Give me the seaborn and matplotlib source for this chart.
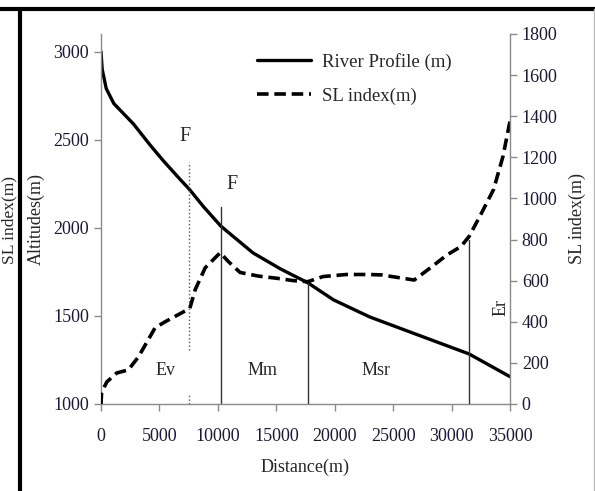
import matplotlib
matplotlib.use("Agg")
import matplotlib.pyplot as plt
from matplotlib.lines import Line2D
import seaborn as sns
import pandas as pd

# river longitudinal profile (left axis)
profile_dist = [0, 100, 450, 1100, 2770, 4200, 5340, 6770, 7570, 8770, 10250,
                11060, 13000, 15350, 17700, 19900, 23000, 27000, 31500, 35000]
profile_alt = [3000, 2900, 2790, 2705, 2590, 2470, 2380, 2275, 2218, 2120, 2010,
               1965, 1858, 1767, 1688, 1591, 1494, 1395, 1284, 1155]

# SL index (right axis)
sl_dist = [0, 50, 490, 1350, 2340, 3200, 4630, 5490, 7600, 8060, 8920, 10200,
           10900, 11900, 13500, 15000, 16500, 17700, 19000, 21000, 23000, 24000,
           26800, 28200, 29600, 30800, 31500, 32500, 33600, 34400, 35000]
sl_value = [0, 55, 107, 151, 166, 229, 371, 400, 465, 556, 663, 736,
            693, 640, 622, 612, 600, 595, 620, 630, 630, 628,
            603, 663, 725, 766, 815, 922, 1044, 1205, 1376]

# annotations
fault_x = [7550, 10300]
zone_x = [17700, 31500]
zone_names = ["Ev", "Mm", "Msr"]
zone_label_x = [5500, 13800, 23500]

profile = pd.DataFrame({"dist": profile_dist, "alt": profile_alt})
sl = pd.DataFrame({"dist": sl_dist, "sl": sl_value})

sns.set_style("ticks")
plt.rcParams["font.family"] = ["Liberation Serif", "DejaVu Serif"]
plt.rcParams["font.size"] = 13

fig = plt.figure(figsize=(5.95, 4.91), dpi=100)
ax = fig.add_axes([101 / 595, 87 / 491, 409 / 595, 370 / 491])
ax2 = ax.twinx()

sns.lineplot(data=profile, x="dist", y="alt", ax=ax, color="black",
             linewidth=2.4, label="River Profile (m)", legend=False)
sns.lineplot(data=sl, x="dist", y="sl", ax=ax2, color="black",
             linewidth=2.6, linestyle=(0, (3.2, 1.6)), label="SL index(m)",
             legend=False)

ax.set_xlim(0, 35000)
ax.set_ylim(1000, 3100)
ax2.set_ylim(0, 1800)
ax.set_xticks(range(0, 35001, 5000))
ax.set_yticks(range(1000, 3001, 500))
ax2.set_yticks(range(0, 1801, 200))

spine_col = "#8a8a8a"
for a in (ax, ax2):
    for s in a.spines.values():
        s.set_color(spine_col)
        s.set_linewidth(1.0)
    a.spines["top"].set_visible(False)
    a.tick_params(colors=spine_col, labelcolor="#1a1a33", length=5,
                  width=1.0, labelsize=13)
ax.spines["right"].set_visible(False)
ax2.spines["left"].set_visible(False)
ax2.spines["bottom"].set_visible(False)
ax2.spines["right"].set_visible(True)
ax.tick_params(axis="x", pad=12)

ax.set_xlabel("Distance(m)", fontsize=13, labelpad=10)
ax.set_ylabel("Altitudes(m)", fontsize=13, labelpad=6)
ax2.set_ylabel("SL index(m)", fontsize=13, labelpad=8)

# fault and zone boundary lines
ax.plot([fault_x[0], fault_x[0]], [1307, 2375], color="#555555",
        linestyle=":", linewidth=1.0)
ax.plot([fault_x[0], fault_x[0]], [1000, 1062], color="#555555",
        linestyle=":", linewidth=1.0)
ax.plot([fault_x[1], fault_x[1]], [1000, 2119], color="#333333", linewidth=1.0)
ax.plot([zone_x[0], zone_x[0]], [1000, 1688], color="#333333", linewidth=1.0)
ax2.plot([zone_x[1], zone_x[1]], [0, 800], color="#333333", linewidth=1.0)

ax.text(7200, 2520, "F", fontsize=14.5, ha="center", va="center")
ax.text(11230, 2245, "F", fontsize=14.5, ha="center", va="center")
for name, zx in zip(zone_names, zone_label_x):
    ax.text(zx, 1190, name, fontsize=13, ha="center", va="center")
ax.text(34200, 1550, "Er", fontsize=13, rotation=90, ha="center", va="center")

handles = [Line2D([], [], color="black", linewidth=2.4),
           Line2D([], [], color="black", linewidth=2.6, linestyle=(0, (3.2, 1.6)))]
fig.legend(handles, ["River Profile (m)", "SL index(m)"], loc="upper left",
           bbox_to_anchor=(240 / 595, 1 - 36 / 491), frameon=False,
           fontsize=13.5, handlelength=2.9, handletextpad=0.6, labelspacing=0.9)

# outer frame remnants of the page
fig.add_artist(Line2D([0, 1], [1 - 9 / 491, 1 - 9 / 491], color="black",
                      linewidth=3.0, transform=fig.transFigure))
fig.add_artist(Line2D([19.5 / 595, 19.5 / 595], [0, 1 - 9 / 491], color="black",
                      linewidth=3.0, transform=fig.transFigure))
fig.add_artist(Line2D([593.5 / 595, 593.5 / 595], [0, 1 - 9 / 491], color="#bbbbbb",
                      linewidth=1.0, transform=fig.transFigure))
fig.text(9 / 595, 1 - 220 / 491, "SL index(m)", rotation=90, fontsize=12.5,
         ha="center", va="center")

fig.savefig("out.png", dpi=100)
